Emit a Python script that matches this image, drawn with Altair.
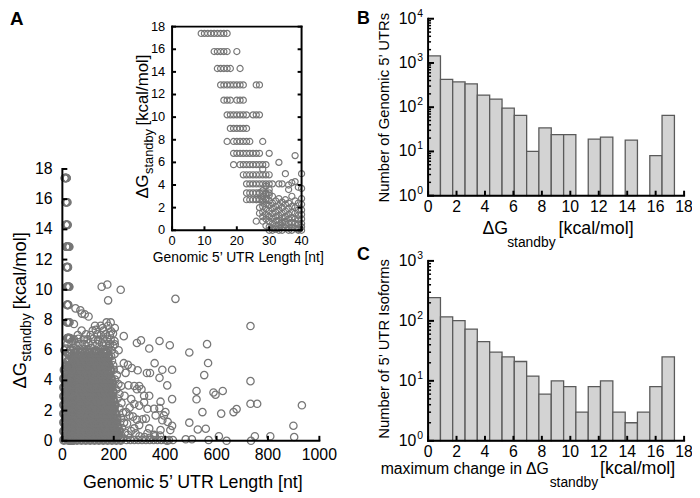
import altair as alt
import pandas as pd

# ---------------- data ----------------
# Inset (A): genomic 5' UTRs of length <= 40 nt, read row by row
INSET_ROW_DG = [17.4, 15.8, 14.3, 12.85, 11.5, 10.2, 9.0, 7.85, 6.8, 5.8, 4.9, 4.1, 3.3, 2.7]
INSET_ROW_LEN = [
    [9, 10, 11, 12, 13, 14, 15, 16, 17],
    [13, 14, 15, 16, 17, 20],
    [14, 15, 16, 17, 18, 21],
    [15, 16, 17, 18, 19, 20, 21, 22, 26, 27],
    [16, 17, 18, 20, 21, 22],
    [17, 18, 19, 20, 21, 22, 23, 25, 26, 27],
    [18, 19, 20, 21, 22, 23],
    [17, 19, 20, 21, 22, 23, 24, 28],
    [19, 20, 21, 22, 23, 24, 25, 26, 27, 30],
    [19, 21, 22, 23, 24, 25, 26, 27, 28, 29],
    [22, 23, 24, 25, 26, 27, 28, 29, 30],
    [23, 24, 25, 26, 27, 28, 29, 30, 31, 33, 34],
    [23, 24, 25, 26, 27, 28, 29, 30],
    [23, 24, 25, 26, 27, 28, 29],
]
INSET_COL_LEN = [26, 27, 28, 29, 30, 31, 32, 33, 34, 35, 36, 37, 38, 39, 40]
INSET_COL_DG = [
    [2.7, 0.8],
    [3.3, 2.7, 2.0, 1.5],
    [3.5, 3.0, 2.5, 2.1, 1.6, 1.2, 0.8],
    [3.9, 3.2, 2.8, 2.3, 1.9, 1.4, 1.0, 0.4],
    [3.6, 3.1, 2.6, 2.2, 1.7, 1.2, 0.8, 0.3, 0.0],
    [3.0, 2.4, 1.9, 1.5, 1.0, 0.6, 0.2, 0.0],
    [2.6, 2.1, 1.6, 1.2, 0.8, 0.4, 0.1],
    [2.8, 2.2, 1.8, 1.3, 0.9, 0.5, 0.2, 0.0],
    [2.5, 2.0, 1.5, 1.1, 0.7, 0.3, 0.0],
    [2.7, 2.3, 1.7, 1.2, 0.8, 0.5, 0.2],
    [3.6, 2.4, 1.9, 1.4, 1.0, 0.6, 0.2, 0.0],
    [3.0, 2.1, 1.6, 1.1, 0.7, 0.3, 0.0],
    [4.3, 2.6, 2.0, 1.5, 1.0, 0.6, 0.2],
    [3.8, 2.4, 1.8, 1.3, 0.9, 0.5, 0.1, 0.0],
    [5.0, 3.7, 2.8, 2.3, 1.8, 1.4, 1.0, 0.6, 0.3, 0.0],
]
INSET_EXTRA_LEN = [38, 33, 35, 28, 37, 36]
INSET_EXTRA_DG = [6.6, 6.0, 5.0, 5.4, 4.2, 4.0]

# Main scatter (A): dense block of short UTRs, row by row (solid-looking core)
BLOB_ROW_DG = [0.05, 0.34, 0.63, 0.92, 1.21, 1.50, 1.79, 2.08, 2.37, 2.66, 2.95, 3.24,
               3.53, 3.82, 4.11, 4.40, 4.69, 4.98, 5.27, 5.56, 5.85]
BLOB_ROW_LEN = [
    [6, 23, 40, 57, 74, 91, 108, 125, 142, 159, 176, 193, 210, 227],
    [14, 31, 48, 65, 82, 99, 116, 133, 150, 167, 184, 201, 218],
    [6, 23, 40, 57, 74, 91, 108, 125, 142, 159, 176, 193, 210, 222],
    [14, 31, 48, 65, 82, 99, 116, 133, 150, 167, 184, 201, 216],
    [6, 23, 40, 57, 74, 91, 108, 125, 142, 159, 176, 193, 210],
    [14, 31, 48, 65, 82, 99, 116, 133, 150, 167, 184, 201, 212],
    [6, 23, 40, 57, 74, 91, 108, 125, 142, 159, 176, 193, 207],
    [14, 31, 48, 65, 82, 99, 116, 133, 150, 167, 184, 201],
    [6, 23, 40, 57, 74, 91, 108, 125, 142, 159, 176, 193, 205],
    [14, 31, 48, 65, 82, 99, 116, 133, 150, 167, 184, 199],
    [6, 23, 40, 57, 74, 91, 108, 125, 142, 159, 176, 193],
    [14, 31, 48, 65, 82, 99, 116, 133, 150, 167, 184, 197],
    [6, 23, 40, 57, 74, 91, 108, 125, 142, 159, 176, 192],
    [14, 31, 48, 65, 82, 99, 116, 133, 150, 167, 184, 195],
    [6, 23, 40, 57, 74, 91, 108, 125, 142, 159, 176, 190],
    [14, 31, 48, 65, 82, 99, 116, 133, 150, 167, 184],
    [8, 23, 40, 57, 74, 91, 108, 125, 142, 159, 176, 188],
    [16, 31, 48, 65, 82, 99, 116, 133, 150, 167, 182],
    [22, 40, 57, 74, 91, 108, 125, 142, 159, 176],
    [34, 48, 65, 82, 99, 116, 133, 150, 167, 180],
    [50, 70, 88, 106, 125, 142, 160, 174],
]
# Main scatter (A): looser rim of the block
RIM_LEN = [8, 14, 30, 44, 60, 78, 96, 112, 130, 148, 164, 180, 192,
           20, 36, 52, 70, 86, 102, 118, 136, 154, 170, 186, 198,
           45, 62, 84, 98, 120, 140, 158, 175, 188, 203,
           60, 92, 110, 135, 150, 168, 185, 197,
           75, 130, 160, 190,
           236, 244, 232, 240, 228, 236, 222, 230, 215, 222, 210, 218, 205, 212, 200, 198, 193, 190, 203]
RIM_DG = [6.0, 6.1, 6.05, 6.15, 6.0, 6.1, 6.05, 6.15, 6.0, 6.1, 6.05, 6.15, 6.0,
          6.43, 6.4, 6.45, 6.43, 6.4, 6.45, 6.43, 6.4, 6.45, 6.43, 6.4, 6.3,
          6.72, 6.75, 6.7, 6.72, 6.75, 6.7, 6.72, 6.75, 6.7, 6.6,
          7.0, 7.05, 7.0, 7.05, 7.0, 7.05, 7.0, 7.1,
          7.3, 7.35, 7.3, 7.25,
          0.2, 0.55, 0.85, 1.2, 1.5, 1.85, 2.15, 2.5, 2.8, 3.1, 3.4, 3.75, 4.05, 4.35, 4.7, 5.0, 5.3, 5.6, 5.75]
# Main scatter (A): scattered UTRs
OUT_LEN = [51, 70, 76, 87, 102, 45, 127, 118, 149, 172, 188, 204, 157, 178, 239, 140,
           204, 219, 239, 255, 270, 293, 223, 246, 229, 242, 257, 280, 290, 308, 318, 338,
           268, 280, 299, 318, 331, 357, 363, 325, 312, 299, 280, 268, 252, 261, 248, 331,
           357, 338, 382, 389, 395, 401, 410, 420, 427, 427, 382, 378, 408, 378, 389, 359,
           341, 329, 427, 418, 378, 338, 306, 290, 299,
           153, 175, 178, 227,
           250, 265, 280, 295, 310, 325, 340, 355, 370, 385, 400, 415, 430,
           300, 320, 340, 360, 380, 262, 275, 290, 285, 255,
           440, 732, 494, 563, 567, 552, 732, 522, 522, 588, 596, 624, 545, 618, 666, 678,
           732, 758, 932, 899, 902, 809, 749, 734, 639, 609, 569, 558, 527, 494, 504, 480, 408]
OUT_DG = [8.77, 8.64, 8.42, 8.38, 8.23, 7.73, 7.62, 7.3, 7.62, 7.84, 7.84, 7.47, 7.47, 7.62, 6.93, 6.65,
          6.39, 6.0, 5.14, 5.03, 4.82, 4.67, 4.7, 4.5, 3.63, 2.98, 3.67, 3.63, 3.41, 3.41, 2.98, 2.98,
          2.76, 2.44, 2.33, 2.55, 2.12, 2.12, 1.68, 1.47, 1.43, 1.04, 0.82, 0.65, 1.14, 1.68, 1.9, 0.5,
          0.39, 0.82, 0.71, 1.36, 1.68, 1.9, 1.25, 0.71, 0.99, 2.76, 2.59, 2.16, 3.67, 4.17, 4.7, 5.14,
          4.49, 4.49, 4.7, 6.33, 6.61, 6.11, 6.65, 6.48, 3.63,
          10.2, 10.35, 9.3, 10.0,
          0.05, 0.05, 0.05, 0.05, 0.05, 0.05, 0.05, 0.05, 0.05, 0.05, 0.05, 0.05, 0.05,
          0.3, 0.25, 0.2, 0.3, 0.35, 2.2, 1.6, 1.4, 0.5, 0.4,
          9.4, 7.6, 5.85, 6.4, 5.15, 4.35, 3.95, 3.3, 2.75, 3.2, 3.05, 3.3, 1.9, 1.8, 1.9, 2.1,
          2.45, 2.45, 2.35, 1.0, 0.25, 0.3, 0.3, 0.0, 0.0, 0.3, 0.05, 0.8, 0.75, 1.2, 0.1, 0.1, 0.0]

# Histograms (B, C): 20 equal bins of dG
BIN_EDGES = [0.00, 0.87, 1.73, 2.60, 3.46, 4.33, 5.20, 6.06, 6.93, 7.79, 8.66,
             9.53, 10.39, 11.26, 12.12, 12.99, 13.86, 14.72, 15.59, 16.45, 17.32]
COUNT_B = [1450, 425, 372, 336, 188, 153, 95, 65, 10, 34, 24, 24, 0, 19, 21, 0, 18, 0, 8, 65]
COUNT_C = [245, 117, 101, 73, 45, 30, 25, 21, 12, 6, 10, 8, 3, 8, 10, 3, 2, 3, 8, 25]

# tick values / labels
XT_A = [0, 200, 400, 600, 800, 1000]
YT_A = [0, 2, 4, 6, 8, 10, 12, 14, 16, 18]
XT_IN = [0, 10, 20, 30, 40]
XT_BC = [0, 2, 4, 6, 8, 10, 12, 14, 16, 18]
DEC_B = [1, 10, 100, 1000, 10000]
EXP_B = ['0', '1', '2', '3', '4']
DEC_C = [1, 10, 100, 1000]
EXP_C = ['0', '1', '2', '3']
MINOR_B = [2, 3, 4, 5, 6, 7, 8, 9, 20, 30, 40, 50, 60, 70, 80, 90,
           200, 300, 400, 500, 600, 700, 800, 900, 2000, 3000, 4000, 5000, 6000, 7000, 8000, 9000]
MINOR_C = [2, 3, 4, 5, 6, 7, 8, 9, 20, 30, 40, 50, 60, 70, 80, 90,
           200, 300, 400, 500, 600, 700, 800, 900]

# ---------------- tables ----------------
ins_len, ins_dg = [], []
for dg, lens in zip(INSET_ROW_DG, INSET_ROW_LEN):
    ins_len += lens
    ins_dg += [dg] * len(lens)
for ln, dgs in zip(INSET_COL_LEN, INSET_COL_DG):
    ins_len += [ln] * len(dgs)
    ins_dg += dgs
ins_len += INSET_EXTRA_LEN
ins_dg += INSET_EXTRA_DG
inset_df = pd.DataFrame({'len': ins_len, 'dg': ins_dg})

b_len, b_dg = [], []
for dg, lens in zip(BLOB_ROW_DG, BLOB_ROW_LEN):
    b_len += lens
    b_dg += [dg] * len(lens)
blob_df = pd.DataFrame({'len': b_len, 'dg': b_dg})
main_df = pd.DataFrame({'len': ins_len + RIM_LEN + OUT_LEN, 'dg': ins_dg + RIM_DG + OUT_DG})

dfB = pd.DataFrame({'x0': BIN_EDGES[:-1], 'x1': BIN_EDGES[1:], 'n': COUNT_B})
dfB = dfB[dfB.n > 0]
dfC = pd.DataFrame({'x0': BIN_EDGES[:-1], 'x1': BIN_EDGES[1:], 'n': COUNT_C})
dfC = dfC[dfC.n > 0]

# ---------------- styling / layout ----------------
W, H = 692, 488
FONT = 'Liberation Sans'
GRAY = '#777777'
one = pd.DataFrame({'a': [0]})


def S(v):
    return v - 8  # page pixel -> chart pixel


def hline(x0, x1, y, w=2):
    return alt.Chart(one).mark_rule(color='black', strokeWidth=w, strokeCap='square').encode(
        x=alt.datum(x0), x2=alt.datum(x1), y=alt.datum(y))


def vline(x, y0, y1, w=2):
    return alt.Chart(one).mark_rule(color='black', strokeWidth=w, strokeCap='square').encode(
        x=alt.datum(x), y=alt.datum(y0), y2=alt.datum(y1))


def xticks(vals, xs, y0, length=5, width=2):
    return alt.Chart(pd.DataFrame({'v': vals})).mark_rule(
        color='black', strokeWidth=width, y2Offset=-length).encode(
        x=alt.X('v:Q', scale=xs), y=alt.datum(y0), y2=alt.datum(y0))


def yticks(vals, ys, x0, length=5, width=2):
    return alt.Chart(pd.DataFrame({'v': vals})).mark_rule(
        color='black', strokeWidth=width, x2Offset=length).encode(
        y=alt.Y('v:Q', scale=ys), x=alt.datum(x0), x2=alt.datum(x0))


def xlabels(vals, xs, y0, fs, off):
    df = pd.DataFrame({'v': vals, 'lab': [str(v) for v in vals]})
    return alt.Chart(df).mark_text(align='center', baseline='top', font=FONT, fontSize=fs,
                                   color='black', yOffset=off).encode(
        x=alt.X('v:Q', scale=xs), y=alt.datum(y0), text='lab:N')


def ylabels(vals, ys, x0, fs, off):
    df = pd.DataFrame({'v': vals, 'lab': [str(v) for v in vals]})
    return alt.Chart(df).mark_text(align='right', baseline='middle', font=FONT, fontSize=fs,
                                   color='black', xOffset=-off).encode(
        y=alt.Y('v:Q', scale=ys), x=alt.datum(x0), text='lab:N')


# ---- Panel A main ----
xA = alt.Scale(domain=[0, 1000], range=[S(63), S(323)], nice=False, zero=False)
yA = alt.Scale(domain=[0, 18], range=[S(443), S(168)], nice=False, zero=False)
blobA = alt.Chart(blob_df).mark_point(shape='circle', filled=False, color=GRAY, size=55,
                                      strokeWidth=2.4, opacity=1).encode(
    x=alt.X('len:Q', scale=xA), y=alt.Y('dg:Q', scale=yA))
ptsA = alt.Chart(main_df).mark_point(shape='circle', filled=False, color=GRAY, size=55,
                                     strokeWidth=1.3, opacity=1).encode(
    x=alt.X('len:Q', scale=xA), y=alt.Y('dg:Q', scale=yA))
panelA = alt.layer(blobA, ptsA,
                   hline(0, 1000, 0), vline(0, 0, 18),
                   xticks(XT_A, xA, 0), yticks(YT_A, yA, 0),
                   xlabels(XT_A, xA, 0, 16, 6), ylabels(YT_A, yA, 0, 16, 10))

# ---- Panel A inset ----
xI = alt.Scale(domain=[0, 40], range=[S(174), S(305)], nice=False, zero=False)
yI = alt.Scale(domain=[0, 18], range=[S(230), S(24)], nice=False, zero=False)
ptsI = alt.Chart(inset_df).mark_point(shape='circle', filled=False, color=GRAY, size=38,
                                      strokeWidth=1.2, opacity=1).encode(
    x=alt.X('len:Q', scale=xI), y=alt.Y('dg:Q', scale=yI))
rtickI = alt.Chart(pd.DataFrame({'v': YT_A})).mark_rule(
    color='black', strokeWidth=2, x2Offset=-4).encode(
    y=alt.Y('v:Q', scale=yI), x=alt.datum(40), x2=alt.datum(40))
panelI = alt.layer(ptsI,
                   hline(0, 40, 0), vline(0, 0, 18), hline(0, 40, 18), vline(40, 0, 18),
                   rtickI, xticks(XT_IN, xI, 0, 4), yticks(YT_A, yI, 0, 4),
                   xlabels(XT_IN, xI, 0, 13, 5), ylabels(YT_A, yI, 0, 13, 7))


# ---- Panels B and C ----
def hist_panel(df, x0, x1, ybot, ytop, dmax, decs, exps, minors, lab_off):
    xs = alt.Scale(domain=[0, 18], range=[S(x0), S(x1)], nice=False, zero=False)
    ys = alt.Scale(type='log', domain=[1, dmax], range=[S(ybot), S(ytop)], nice=False)
    bars = alt.Chart(df).mark_rect(fill='#d3d3d3', stroke='#5a5a5a', strokeWidth=1.3).encode(
        x=alt.X('x0:Q', scale=xs), x2='x1:Q',
        y=alt.Y('n:Q', scale=ys), y2=alt.datum(1))
    dec = pd.DataFrame({'v': decs, 'e': exps})
    lab10 = alt.Chart(dec).mark_text(align='right', baseline='middle', font=FONT, fontSize=16,
                                     color='black', xOffset=-12, text='10').encode(
        x=alt.datum(0), y=alt.Y('v:Q', scale=ys))
    labE = alt.Chart(dec).mark_text(align='left', baseline='middle', font=FONT, fontSize=10.5,
                                    color='black', xOffset=-11, yOffset=-5).encode(
        x=alt.datum(0), y=alt.Y('v:Q', scale=ys), text='e:N')
    return alt.layer(bars,
                     hline(0, 18, 1), vline(0, 1, dmax),
                     xticks(XT_BC, xs, 1, 5),
                     yticks(decs, ys, 0, 6),
                     yticks(minors, ys, 0, 3, 1.5),
                     xlabels(XT_BC, xs, 1, 16, lab_off),
                     lab10, labE)


panelB = hist_panel(dfB, 433, 692, 195, 16, 10000, DEC_B, EXP_B, MINOR_B, 4)
panelC = hist_panel(dfC, 433, 692, 443, 261, 1000, DEC_C, EXP_C, MINOR_C, 3)


# ---- text (titles, panel letters) ----
def txt(s, x, y, size, angle=0, align='left', weight='normal'):
    return alt.Chart(one).mark_text(text=s, font=FONT, fontSize=size, fontWeight=weight,
                                    angle=angle, align=align, baseline='alphabetic',
                                    color='black').encode(
        x=alt.value(S(x)), y=alt.value(S(y)))


texts = [
    txt('A', 10, 22, 19, weight='bold'),
    txt('B', 361, 21, 18, weight='bold'),
    txt('C', 361, 260, 18, weight='bold'),
    # main A titles
    txt('Genomic 5\u2019 UTR Length [nt]', 195, 491, 18, align='center'),
    txt('\u0394G', 26, 390, 18.5, angle=270),
    txt('standby', 31, 363, 14, angle=270),
    txt('[kcal/mol]', 26, 310, 18.5, angle=270),
    # inset titles
    txt('Genomic 5\u2019 UTR Length [nt]', 241, 262, 14, align='center'),
    txt('\u0394G', 150, 198, 17, angle=270),
    txt('standby', 155, 173, 13, angle=270),
    txt('[kcal/mol]', 150, 124, 17, angle=270),
    # B titles
    txt('\u0394G', 488, 234, 18),
    txt('standby', 513, 247, 14),
    txt('[kcal/mol]', 565, 234, 18),
    txt('Number of Genomic 5\u2019 UTRs', 393, 106, 15, angle=270, align='center'),
    # C titles
    txt('maximum change in', 385, 477, 16),
    txt('\u0394G', 532, 477, 16),
    txt('standby', 556, 490, 14),
    txt('[kcal/mol]', 607, 477, 18),
    txt('Number of 5\u2019 UTR Isoforms', 393, 350, 15, angle=270, align='center'),
]

chart = alt.layer(panelA, panelI, panelB, panelC, *texts).resolve_scale(
    x='independent', y='independent').properties(
    width=W, height=H, autosize=alt.AutoSizeParams(type='none'), padding=0
).configure_view(stroke=None).configure_axis(disable=True)

chart.save("out.html", embed_options={"renderer": "svg", "actions": False})
